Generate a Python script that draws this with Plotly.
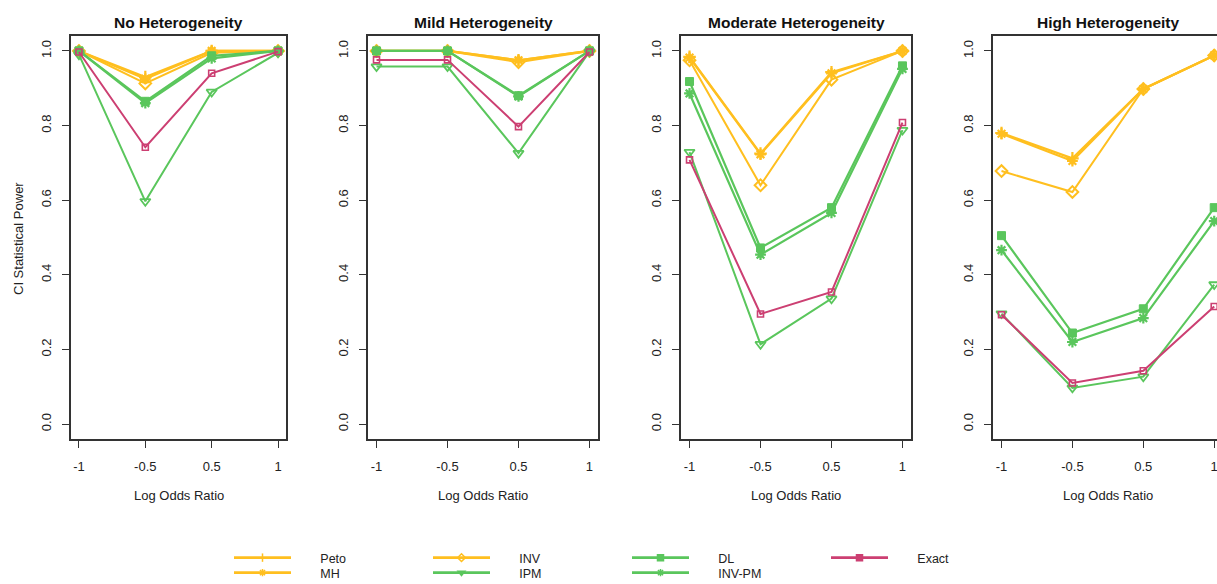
import plotly.graph_objects as go

# ---------------- data ----------------
log_or = ["-1", "-0.5", "0.5", "1"]
panels = ["No Heterogeneity", "Mild Heterogeneity", "Moderate Heterogeneity", "High Heterogeneity"]
methods = ["Peto", "MH", "INV", "IPM", "DL", "INV-PM", "Exact"]

no_het = {
    "Peto":   [1.000, 0.930, 1.000, 1.000],
    "MH":     [1.000, 0.925, 1.000, 1.000],
    "INV":    [1.000, 0.913, 0.995, 1.000],
    "IPM":    [0.990, 0.597, 0.890, 0.995],
    "DL":     [1.000, 0.865, 0.987, 1.000],
    "INV-PM": [1.000, 0.860, 0.980, 1.000],
    "Exact":  [0.997, 0.742, 0.940, 0.998],
}
mild_het = {
    "Peto":   [1.000, 1.000, 0.975, 1.000],
    "MH":     [1.000, 1.000, 0.975, 1.000],
    "INV":    [1.000, 1.000, 0.970, 1.000],
    "IPM":    [0.958, 0.958, 0.726, 0.998],
    "DL":     [1.000, 1.000, 0.880, 1.000],
    "INV-PM": [1.000, 1.000, 0.878, 1.000],
    "Exact":  [0.976, 0.976, 0.797, 0.997],
}
moderate_het = {
    "Peto":   [0.984, 0.725, 0.943, 1.000],
    "MH":     [0.982, 0.723, 0.940, 1.000],
    "INV":    [0.975, 0.640, 0.923, 1.000],
    "IPM":    [0.729, 0.214, 0.336, 0.788],
    "DL":     [0.918, 0.472, 0.580, 0.960],
    "INV-PM": [0.886, 0.454, 0.566, 0.952],
    "Exact":  [0.708, 0.295, 0.354, 0.808],
}
high_het = {
    "Peto":   [0.780, 0.712, 0.898, 0.988],
    "MH":     [0.778, 0.705, 0.898, 0.988],
    "INV":    [0.678, 0.622, 0.898, 0.988],
    "IPM":    [0.296, 0.097, 0.127, 0.374],
    "DL":     [0.505, 0.244, 0.309, 0.580],
    "INV-PM": [0.466, 0.220, 0.284, 0.544],
    "Exact":  [0.293, 0.110, 0.143, 0.315],
}
panel_data = [no_het, mild_het, moderate_het, high_het]
y_ticks = [0.0, 0.2, 0.4, 0.6, 0.8, 1.0]

# ---------------- styles ----------------
YEL = "#FFBF1F"
GRN = "#5AC65C"
RED = "#CC3F72"
style = {
    "Peto":   dict(color=YEL, symbol="cross-thin-open", size=9, mlw=2.2, lw=2.2),
    "MH":     dict(color=YEL, symbol="asterisk-open", size=9, mlw=2.2, lw=2.2),
    "INV":    dict(color=YEL, symbol="diamond-open", size=9, mlw=2.0, lw=2.0),
    "IPM":    dict(color=GRN, symbol="triangle-down-open", size=9, mlw=1.8, lw=2.0),
    "DL":     dict(color=GRN, symbol="square", size=8, mlw=1.0, lw=2.2),
    "INV-PM": dict(color=GRN, symbol="asterisk-open", size=9, mlw=2.2, lw=2.2),
    "Exact":  dict(color=RED, symbol="square-open", size=6, mlw=1.6, lw=2.0),
}
legend_of = {"Peto": "legend", "INV": "legend", "DL": "legend", "Exact": "legend",
             "MH": "legend2", "IPM": "legend2", "INV-PM": "legend2"}
legend_sym = {"Peto": "line-ns-open", "MH": "asterisk-open", "INV": "diamond-open",
              "IPM": "triangle-down", "DL": "square", "INV-PM": "asterisk-open",
              "Exact": "square"}

W, H = 1217, 584
FONT = "Liberation Sans, Arial, Helvetica, sans-serif"
# panel box positions in px
boxes = [(71, 286), (368, 598), (681, 911), (993, 1217)]
top_px, bot_px = 36, 439
ydom = [1 - bot_px / H, 1 - top_px / H]

fig = go.Figure()
for i, data in enumerate(panel_data):
    ax = "" if i == 0 else str(i + 1)
    for m in methods:
        s = style[m]
        fig.add_trace(go.Scatter(
            x=log_or, y=data[m], mode="lines+markers",
            name=m, showlegend=False,
            line=dict(color=s["color"], width=s["lw"]),
            marker=dict(symbol=s["symbol"], size=s["size"], color=s["color"],
                        line=dict(color=s["color"], width=s["mlw"])),
            xaxis="x" + ax, yaxis="y" + ax,
            cliponaxis=False if i < 3 else True,
        ))

# legend proxies (no data points, legend only)
for m in ["Peto", "INV", "DL", "Exact", "MH", "IPM", "INV-PM"]:
    s = style[m]
    fig.add_trace(go.Scatter(
        x=[None], y=[None], mode="lines+markers", name="\u00a0" * 7 + m,
        legend=legend_of[m], showlegend=True,
        line=dict(color=s["color"], width=2.6),
        marker=dict(symbol=legend_sym[m], size=6, color=s["color"],
                    line=dict(color=s["color"], width=1.5)),
    ))

layout = dict(
    width=W, height=H, margin=dict(l=0, r=0, t=0, b=0, autoexpand=False),
    paper_bgcolor="white", plot_bgcolor="white",
    font=dict(family=FONT, size=13, color="#222"),
    annotations=[],
)
for i, (l, r) in enumerate(boxes):
    ax = "" if i == 0 else str(i + 1)
    xr = [-0.12, 3.12] if i < 3 else [-0.12, -0.12 + (r - l) / 70.9]
    layout["xaxis" + ax] = dict(
        domain=[l / W, r / W], type="category", categoryorder="array", categoryarray=log_or,
        range=xr, showgrid=False, zeroline=False, showline=True, mirror=True,
        linecolor="#333", linewidth=1.5, ticks="outside", ticklen=7, tickwidth=1.3,
        tickcolor="#333", ticklabelstandoff=8, tickfont=dict(size=13, color="#222"),
        anchor="y" + ax, fixedrange=True,
    )
    layout["yaxis" + ax] = dict(
        domain=ydom, range=[-0.04, 1.04], tickvals=y_ticks, tickformat=".1f",
        tickangle=-90, showgrid=False, zeroline=False, showline=True,
        mirror=True if i < 3 else False,
        linecolor="#333", linewidth=1.5, ticks="outside", ticklen=7, tickwidth=1.3,
        tickcolor="#333", ticklabelstandoff=6, tickfont=dict(size=13, color="#222"),
        anchor="x" + ax, fixedrange=True,
    )
    cx = ((l + r) / 2 if i < 3 else (l + l + 230) / 2) / W
    layout["annotations"].append(dict(
        text="<b>" + panels[i] + "</b>", x=cx, y=1 - 22 / H, xref="paper", yref="paper",
        showarrow=False, xanchor="center", yanchor="middle",
        font=dict(size=15.5, color="#111", family=FONT)))
    layout["annotations"].append(dict(
        text="Log Odds Ratio", x=cx, y=1 - 495 / H, xref="paper", yref="paper",
        showarrow=False, xanchor="center", yanchor="middle",
        font=dict(size=13, color="#222", family=FONT)))

layout["annotations"].append(dict(
    text="CI Statistical Power", x=18 / W, y=1 - 239 / H, xref="paper", yref="paper",
    showarrow=False, xanchor="center", yanchor="middle", textangle=-90,
    font=dict(size=13, color="#222", family=FONT)))

leg_common = dict(orientation="h", xanchor="left", yanchor="middle", itemwidth=57,
                  entrywidth=127, entrywidthmode="pixels", bgcolor="rgba(0,0,0,0)",
                  font=dict(size=12.5, color="#222", family=FONT), tracegroupgap=0)
layout["legend"] = dict(x=229 / W, y=1 - 558 / H, **leg_common)
layout["legend2"] = dict(x=229 / W, y=1 - 573 / H, **leg_common)

fig.update_layout(**layout)
fig.write_html("out.html")
